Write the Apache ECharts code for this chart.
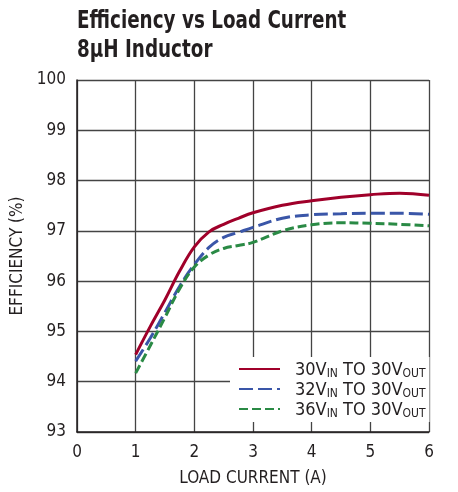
<!DOCTYPE html>
<html><head><meta charset="utf-8">
<script src="https://cdn.jsdelivr.net/npm/echarts@6/dist/echarts.min.js"></script>
<style>html,body{margin:0;padding:0;background:#fff}#c{width:458px;height:492px}</style>
</head><body><div id="c"></div>
<script>
const xVals = [1, 1.25, 1.5, 1.75, 2, 2.25, 2.5, 2.75, 3, 3.5, 4, 4.5, 5, 5.5, 6];
const eff30 = [94.54, 95.1, 95.63, 96.2, 96.68, 96.98, 97.13, 97.25, 97.36, 97.51, 97.6, 97.67, 97.72, 97.75, 97.71];
const eff32 = [94.41, 94.87, 95.38, 95.9, 96.33, 96.67, 96.87, 96.97, 97.07, 97.25, 97.32, 97.34, 97.35, 97.35, 97.33];
const eff36 = [94.17, 94.72, 95.28, 95.85, 96.28, 96.52, 96.65, 96.71, 96.77, 97.0, 97.12, 97.16, 97.15, 97.13, 97.1];
const seriesNames = ['30V', '32V', '36V'];
const titleLines = ['Efficiency vs Load Current', '8µH Inductor'];

const FONT = '"Liberation Sans Narrow","DejaVu Sans Condensed",sans-serif';
const TXT = '#231f20';
const pair = (xs, ys) => xs.map((x, i) => [x, ys[i]]);

const chart = echarts.init(document.getElementById('c'), null, {renderer: 'canvas'});
chart.setOption({
  animation: false,
  textStyle: {fontFamily: FONT, color: TXT},
  graphic: titleLines.map((t, i) => ({
    type: 'text', left: 77, top: 10 + i * 29, scaleX: 0.85, originX: 0,
    style: {text: t, fontFamily: FONT, fontWeight: 'bold', fontSize: 24, fill: TXT}
  })),
  grid: {left: 77, top: 80, width: 352, height: 352, containLabel: false},
  xAxis: {
    type: 'value', min: 0, max: 6, interval: 1,
    name: 'LOAD CURRENT (A)', nameLocation: 'middle', nameGap: 38,
    nameTextStyle: {fontFamily: FONT, fontSize: 17, color: TXT},
    axisLine: {show: true, lineStyle: {color: TXT, width: 1.5}},
    axisTick: {show: false},
    axisLabel: {fontFamily: FONT, fontSize: 17, color: TXT, margin: 12},
    splitLine: {show: true, lineStyle: {color: '#444', width: 1.3}}
  },
  yAxis: {
    type: 'value', min: 93, max: 100, interval: 1,
    name: 'EFFICIENCY (%)', nameLocation: 'middle', nameGap: 46, nameRotate: 90,
    nameTextStyle: {fontFamily: FONT, fontSize: 17, color: TXT},
    axisLine: {show: true, lineStyle: {color: TXT, width: 1.5}},
    axisTick: {show: false},
    axisLabel: {fontFamily: FONT, fontSize: 17, color: TXT, margin: 11},
    splitLine: {show: true, lineStyle: {color: '#444', width: 1.3}}
  },
  legend: {
    orient: 'vertical', left: 230, top: 357,
    backgroundColor: '#fff', padding: [4, 4, 2, 8],
    itemWidth: 41, itemHeight: 14, itemGap: 1,
    itemStyle: {opacity: 0},
    data: seriesNames,
    formatter: name => '{g|}{n|' + name + '}{s|IN}{n| TO 30V}{s|OUT}',
    textStyle: {
      fontFamily: FONT, color: TXT,
      rich: {
        g: {width: 10, height: 1},
        n: {fontFamily: FONT, fontSize: 18, color: TXT, lineHeight: 16, verticalAlign: 'top'},
        s: {fontFamily: FONT, fontSize: 12, color: TXT, lineHeight: 12, verticalAlign: 'top', padding: [7, 0, 0, 0]}
      }
    }
  },
  series: [
    {name: '30V', type: 'line', data: pair(xVals, eff30), smooth: 0.4, showSymbol: false, symbol: 'none',
     lineStyle: {color: '#a0002a', width: 3}, itemStyle: {color: '#a0002a'}},
    {name: '32V', type: 'line', data: pair(xVals, eff32), smooth: 0.4, showSymbol: false, symbol: 'none',
     lineStyle: {color: '#3a56a8', width: 3, type: [14, 5]}, itemStyle: {color: '#3a56a8'}},
    {name: '36V', type: 'line', data: pair(xVals, eff36), smooth: 0.4, showSymbol: false, symbol: 'none',
     lineStyle: {color: '#2a8a45', width: 3, type: [9, 4]}, itemStyle: {color: '#2a8a45'}}
  ]
});
</script></body></html>
